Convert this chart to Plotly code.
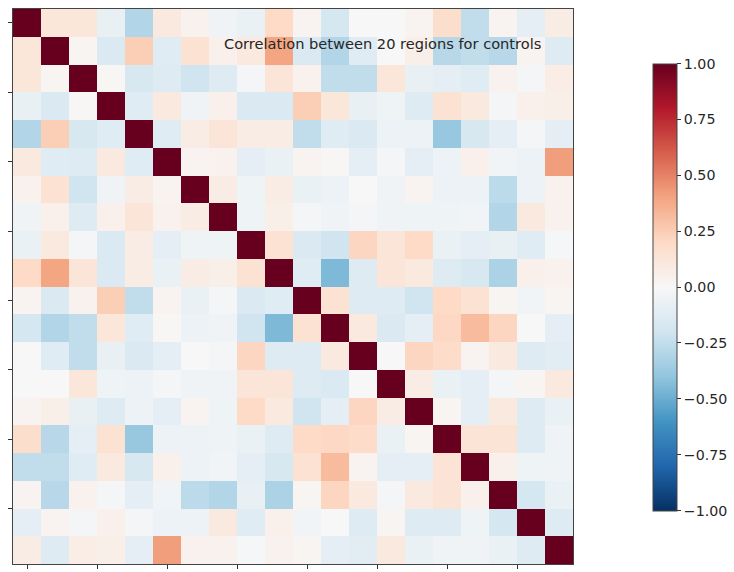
import plotly.graph_objects as go

# Correlation matrix between 20 regions (control group)
corr = [
    [1.00, 0.12, 0.12, -0.08, -0.30, 0.10, 0.04, -0.04, -0.07, 0.20, 0.03, -0.18, 0.00, 0.00, 0.03, 0.18, -0.25, 0.03, -0.10, 0.08],
    [0.12, 1.00, 0.02, -0.15, 0.25, -0.12, 0.15, 0.05, 0.10, 0.40, -0.15, -0.30, -0.12, 0.00, 0.06, -0.28, -0.25, -0.28, 0.03, -0.13],
    [0.12, 0.02, 1.00, 0.01, -0.17, -0.13, -0.20, -0.13, -0.02, 0.13, 0.04, -0.25, -0.25, 0.12, -0.08, -0.10, -0.12, 0.04, -0.02, 0.07],
    [-0.08, -0.15, 0.01, 1.00, -0.12, 0.10, -0.04, 0.05, -0.15, -0.15, 0.25, 0.12, -0.08, -0.05, -0.13, 0.15, 0.10, -0.02, 0.05, 0.06],
    [-0.30, 0.25, -0.17, -0.12, 1.00, -0.12, 0.08, 0.13, 0.08, 0.08, -0.25, -0.12, -0.15, -0.06, -0.06, -0.38, -0.17, -0.10, -0.02, -0.10],
    [0.10, -0.12, -0.13, 0.10, -0.12, 1.00, 0.03, 0.04, -0.10, -0.07, 0.03, 0.01, -0.10, -0.02, -0.10, -0.06, 0.05, -0.03, -0.06, 0.42],
    [0.04, 0.15, -0.20, -0.04, 0.08, 0.03, 1.00, 0.08, -0.05, 0.08, -0.07, -0.06, 0.00, -0.04, 0.03, -0.06, -0.06, -0.27, -0.06, 0.04],
    [-0.04, 0.05, -0.13, 0.05, 0.13, 0.04, 0.08, 1.00, -0.05, 0.06, -0.02, -0.04, -0.02, -0.04, -0.05, -0.05, -0.03, -0.30, 0.10, 0.04],
    [-0.07, 0.10, -0.02, -0.15, 0.08, -0.10, -0.05, -0.05, 1.00, 0.15, -0.15, -0.20, 0.22, 0.13, 0.20, -0.07, -0.10, -0.08, -0.12, -0.01],
    [0.20, 0.40, 0.13, -0.15, 0.08, -0.07, 0.08, 0.06, 0.15, 1.00, -0.12, -0.45, -0.13, 0.13, 0.10, -0.13, -0.17, -0.32, 0.05, 0.04],
    [0.03, -0.15, 0.04, 0.25, -0.25, 0.03, -0.07, -0.02, -0.15, -0.12, 1.00, 0.15, -0.13, -0.13, -0.20, 0.20, 0.15, 0.02, -0.03, 0.02],
    [-0.18, -0.30, -0.25, 0.12, -0.12, 0.01, -0.06, -0.04, -0.20, -0.45, 0.15, 1.00, 0.10, -0.15, -0.10, 0.21, 0.32, 0.22, 0.00, -0.10],
    [0.00, -0.12, -0.25, -0.08, -0.15, -0.10, 0.00, -0.02, 0.22, -0.13, -0.13, 0.10, 1.00, 0.00, 0.22, 0.19, 0.03, 0.10, -0.13, -0.11],
    [0.00, 0.00, 0.12, -0.05, -0.06, -0.02, -0.04, -0.04, 0.13, 0.13, -0.13, -0.15, 0.00, 1.00, 0.08, -0.07, -0.10, -0.02, 0.02, 0.10],
    [0.03, 0.06, -0.08, -0.13, -0.06, -0.10, 0.03, -0.05, 0.20, 0.10, -0.20, -0.10, 0.22, 0.08, 1.00, 0.02, -0.10, 0.10, -0.13, -0.07],
    [0.18, -0.28, -0.10, 0.15, -0.38, -0.06, -0.06, -0.05, -0.07, -0.13, 0.20, 0.21, 0.19, -0.07, 0.02, 1.00, 0.14, 0.14, -0.13, -0.04],
    [-0.25, -0.25, -0.12, 0.10, -0.17, 0.05, -0.06, -0.03, -0.10, -0.17, 0.15, 0.32, 0.03, -0.10, -0.10, 0.14, 1.00, 0.05, -0.05, -0.04],
    [0.03, -0.28, 0.04, -0.02, -0.10, -0.03, -0.27, -0.30, -0.08, -0.32, 0.02, 0.22, 0.10, -0.02, 0.10, 0.14, 0.05, 1.00, -0.18, -0.07],
    [-0.10, 0.03, -0.02, 0.05, -0.02, -0.06, -0.06, 0.10, -0.12, 0.05, -0.03, 0.00, -0.13, 0.02, -0.13, -0.13, -0.05, -0.18, 1.00, -0.13],
    [0.08, -0.13, 0.07, 0.06, -0.10, 0.42, 0.04, 0.04, -0.01, 0.04, 0.02, -0.10, -0.11, 0.10, -0.07, -0.04, -0.04, -0.07, -0.13, 1.00],
]
regions = list(range(20))
axis_ticks = [0, 2.5, 5, 7.5, 10, 12.5, 15, 17.5]
cbar_ticks = [-1.0, -0.75, -0.5, -0.25, 0.0, 0.25, 0.5, 0.75, 1.0]
cbar_labels = [f"{v:.2f}".replace("-", "\u2212") for v in cbar_ticks]
title_text = "Correlation between 20 regions for controls"

# Diverging red-blue scale (blue = negative, red = positive)
rdbu_r = [
    [0.0, "rgb(5,48,97)"],
    [0.1, "rgb(33,102,172)"],
    [0.2, "rgb(67,147,195)"],
    [0.3, "rgb(146,197,222)"],
    [0.4, "rgb(209,229,240)"],
    [0.5, "rgb(247,247,247)"],
    [0.6, "rgb(253,219,199)"],
    [0.7, "rgb(244,165,130)"],
    [0.8, "rgb(214,96,77)"],
    [0.9, "rgb(178,24,43)"],
    [1.0, "rgb(103,0,31)"],
]

fig = go.Figure(
    go.Heatmap(
        z=corr,
        x=regions,
        y=regions,
        zmin=-1,
        zmax=1,
        colorscale=rdbu_r,
        colorbar=dict(
            x=1.143,
            xanchor="left",
            y=0.499,
            yanchor="middle",
            len=0.805,
            lenmode="fraction",
            thickness=24,
            thicknessmode="pixels",
            outlinewidth=1,
            outlinecolor="#444",
            tickvals=cbar_ticks,
            ticktext=cbar_labels,
            ticks="outside",
            ticklen=4,
            tickcolor="#333",
            tickfont=dict(family="DejaVu Sans", size=14.2, color="#262626"),
            xpad=0,
            ypad=0,
        ),
        hoverongaps=False,
    )
)

fig.add_annotation(
    text=title_text,
    xref="paper",
    yref="paper",
    x=0.946,
    y=0.937,
    xanchor="right",
    yanchor="middle",
    showarrow=False,
    font=dict(family="DejaVu Sans", size=14.6, color="#262626"),
)

axis_style = dict(
    tickvals=axis_ticks,
    showticklabels=False,
    ticks="outside",
    ticklen=4,
    tickcolor="#333",
    showgrid=False,
    zeroline=False,
    showline=True,
    linecolor="#444",
    linewidth=1,
    mirror=True,
)

fig.update_layout(
    width=734,
    height=572,
    margin=dict(l=13, r=161, t=9, b=4),
    paper_bgcolor="white",
    plot_bgcolor="white",
    xaxis=dict(range=[-0.5, 19.5], **axis_style),
    yaxis=dict(range=[19.5, -0.5], **axis_style),
    font=dict(family="DejaVu Sans"),
)

fig.write_html("out.html")
